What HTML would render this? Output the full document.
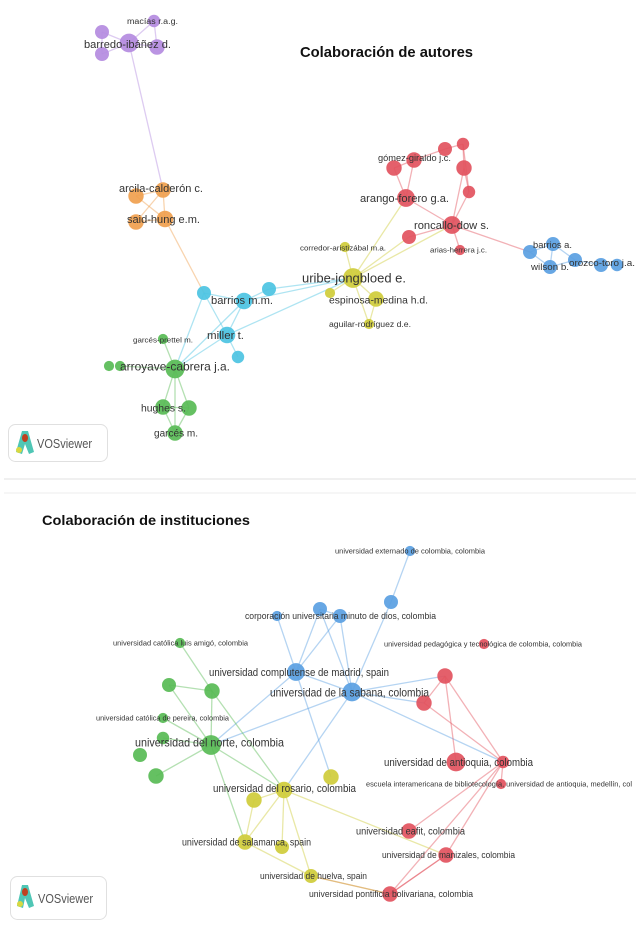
<!DOCTYPE html>
<html><head><meta charset="utf-8"><title>Colaboración de autores e instituciones</title>
<style>
html,body{margin:0;padding:0;background:#fff;}
svg{display:block;}
.lbl{font-family:"Liberation Sans",sans-serif;fill:#333;}
.title{font-family:"Liberation Sans",sans-serif;font-weight:bold;fill:#111;}
</style></head>
<body>
<svg id="chart" width="640" height="927" viewBox="0 0 640 927" xmlns="http://www.w3.org/2000/svg">
  <rect x="0" y="0" width="640" height="927" fill="#fff"/>
  <line x1="4" y1="479" x2="636" y2="479" stroke="#e2e2e2" stroke-width="1"/>
  <line x1="4" y1="493" x2="636" y2="493" stroke="#ececec" stroke-width="1"/>
  <text class="title" x="300" y="57" font-size="15" textLength="173" lengthAdjust="spacingAndGlyphs">Colaboración de autores</text>
  <text class="title" x="42" y="525" font-size="14" textLength="208" lengthAdjust="spacingAndGlyphs">Colaboración de instituciones</text>
  <g id="edges"></g>
  <g id="nodes"></g>
  <g id="labels"></g>
  <g>
    <rect x="8.5" y="424.5" width="99" height="37" rx="7" fill="#fff" stroke="#e0e0e0"/>
    <path d="M22 431 L16 452 L22 454 L25 444 L29 454 L34 452 L28 431 Z" fill="#4fc6b5"/>
    <ellipse cx="25" cy="438" rx="3" ry="4" fill="#c04020"/>
    <ellipse cx="19" cy="450" rx="3" ry="3" fill="#d8d840"/>
    <text class="lbl" x="37" y="448" font-size="13" fill="#555" textLength="55" lengthAdjust="spacingAndGlyphs" style="fill:#555">VOSviewer</text>
  </g>
  <g>
    <rect x="10.5" y="876.5" width="96" height="43" rx="7" fill="#fff" stroke="#e0e0e0"/>
    <path d="M22 885 L17 906 L23 908 L25 898 L29 908 L34 906 L28 885 Z" fill="#4fc6b5"/>
    <ellipse cx="25" cy="892" rx="3" ry="4" fill="#c04020"/>
    <ellipse cx="20" cy="904" rx="3" ry="3" fill="#d8d840"/>
    <text class="lbl" x="38" y="903" font-size="13" textLength="55" lengthAdjust="spacingAndGlyphs" style="fill:#555">VOSviewer</text>
  </g>
</svg>
<script>
// Network data: node ids, cluster, map coordinates, weights
const nodeIds = ["p1","p2","p3","p4","p5","o1","o2","o3","o4","c1","c2","c3","c4","c5","g1","g2","g3","g4","g5","g6","g7","y1","y2","y3","y4","y5","r1","r2","r3","r4","r5","r6","r7","r8","r9","r10","b1","b2","b3","b4","b5","b6",
 "IB1","IB2","IB3","IB4","IB5","IB6","IB7","IR1","IR2","IR3","IR4","IR5","IR6","IR7","IR8","IR9","IG1","IG2","IG3","IG4","IG5","IG6","IG7","IG8","IY1","IY2","IY3","IY4","IY5","IY6"];
const nodeCluster = ["purple","purple","purple","purple","purple","orange","orange","orange","orange","cyan","cyan","cyan","cyan","cyan","green","green","green","green","green","green","green","yellow","yellow","yellow","yellow","yellow","red","red","red","red","red","red","red","red","red","red","blue","blue","blue","blue","blue","blue",
 "blue","blue","blue","blue","blue","blue","blue","red","red","red","red","red","red","red","red","red","green","green","green","green","green","green","green","green","yellow","yellow","yellow","yellow","yellow","yellow"];
const nodeX = [102,102,129,157,154,136,163,136,165,204,244,269,227,238,175,109,120,163,163,189,175,353,376,330,369,345,394,414,445,463,464,469,406,452,409,460,530,553,550,575,601,617,
 410,391,320,340,277,296,352,445,424,484,456,503,501,409,446,390,180,169,212,163,211,163,140,156,284,331,254,245,282,311];
const nodeY = [32,54,43,47,21,196,190,222,219,293,301,289,335,357,369,366,366,339,407,408,433,278,299,293,324,247,168,160,149,144,168,192,198,225,237,250,252,244,267,260,265,265,
 551,602,609,616,616,672,692,676,703,644,762,762,784,831,855,894,643,685,691,718,745,738,755,776,790,777,800,842,847,876];
const nodeWeight = [3,3,7,4,2,4,4,4,5,3,5,3,5,2,7,1,1,1,4,4,4,8,4,1,1,1,4,4,3,2,4,2,6,6,3,1,3,3,3,3,3,2,
 1,3,3,3,1,6,7,4,4,1,7,2,1,4,4,4,1,3,4,1,8,2,3,4,5,4,4,4,3,3];

const edgeFrom = ["p3","p3","p3","p3","p5","p1","p3","o1","o1","o2","o2","o3","o4","c1","c1","c2","c2","c2","c3","c4","c4","c4","c2","c1","g1","g1","g1","g1","g1","g5","g5","g6","y1","y1","y1","y2","y1","y1","y1","y1","r7","r7","r7","r1","r2","r3","r4","r4","r5","r6","r8","r8","r8","r8","b1","b2","b1","b2","b4","b5","b3",
 "IB1","IB2","IB3","IB3","IB4","IB4","IB3","IB5","IB6","IB6","IB7","IB6","IB7","IB7","IB7","IB7","IR1","IR1","IR1","IR2","IR5","IR5","IR5","IR5","IR8","IR8","IR9","IG1","IG3","IG3","IG2","IG4","IG6","IG7","IG8","IG5","IG5","IG3","IY1","IY1","IY3","IY1","IY1","IY4","IY1","IY6"];
const edgeTo = ["p1","p2","p4","p5","p4","p2","o2","o2","o4","o3","o4","o4","c1","c2","c4","c4","c3","y1","y1","y1","c5","g1","g1","g1","g4","g3","g5","g6","g7","g6","g7","g7","y2","y5","y3","y4","y4","r7","r8","r9","r1","r2","r8","r2","r3","r4","r5","r6","r6","r8","r9","r10","r5","b1","b2","b3","b3","b4","b5","b6","b4",
 "IB2","IB7","IB4","IB6","IB6","IB7","IB7","IB6","IB7","IG5","IG5","IY2","IY1","IR1","IR2","IR5","IR4","IR2","IR5","IR5","IR6","IR7","IR8","IR9","IR9","IR9","IY6","IG3","IG2","IG5","IG5","IG5","IG5","IG7","IG5","IY1","IY4","IY1","IY3","IY4","IY4","IY5","IY6","IY6","IR8","IR9"];

const palette = {purple:"#b48be0",orange:"#f0a04e",cyan:"#4cc3e2",green:"#58bb55",yellow:"#cfcc3a",red:"#e2525e",blue:"#5a9fe2"};

const labelText = ["barredo-ibáñez d.","macías r.a.g.","arcila-calderón c.","said-hung e.m.","barrios m.m.","miller t.","garcés-prettel m.","arroyave-cabrera j.a.","hughes s.","garcés m.","uribe-jongbloed e.","espinosa-medina h.d.","aguilar-rodríguez d.e.","corredor-aristizábal m.a.","gómez-giraldo j.c.","arango-forero g.a.","roncallo-dow s.","arias-herrera j.c.","barrios a.","wilson b.","orozco-toro j.a.",
 "universidad externado de colombia, colombia","corporación universitaria minuto de dios, colombia","universidad católica luis amigó, colombia","universidad pedagógica y tecnológica de colombia, colombia","universidad complutense de madrid, spain","universidad de la sabana, colombia","universidad católica de pereira, colombia","universidad del norte, colombia","universidad de antioquia, colombia","escuela interamericana de bibliotecología, universidad de antioquia, medellín, col","universidad del rosario, colombia","universidad eafit, colombia","universidad de salamanca, spain","universidad de manizales, colombia","universidad de huelva, spain","universidad pontificia bolivariana, colombia"];
const labelLeft = [84,127,119,127,211,207,133,120,141,154,302,329,329,300,378,360,414,430,533,531,569,
 335,245,113,384,209,270,96,135,384,366,213,356,182,382,260,309];
const labelRight = [171,178,203,200,273,244,193,230,186,198,406,428,411,386,451,449,489,487,572,569,635,
 485,436,248,582,389,429,229,284,533,632,356,465,311,515,367,473];
const labelY = [44,21,188,219,300,335,340,366,408,433,278,300,324,248,158,198,225,250,245,267,263,
 551,616,643,644,672,692,718,742,762,784,788,831,842,855,876,894];
const labelSize = [11,8,11,11,11,11,7,12,10,10,13,10,8,7,9,11,11,7,9,9,9,
 7,9,7,7,11,12,7,12,11,7,11,10,10,9,9,9];

const NS = "http://www.w3.org/2000/svg";
const idx = {};
nodeIds.forEach((id,i)=>idx[id]=i);
const radius = w => 2.5 + Math.sqrt(w) * 2.6;

const gE = document.getElementById("edges");
edgeFrom.forEach((f,k)=>{
  const a = idx[f], b = idx[edgeTo[k]];
  const ln = document.createElementNS(NS,"line");
  ln.setAttribute("x1",nodeX[a]); ln.setAttribute("y1",nodeY[a]);
  ln.setAttribute("x2",nodeX[b]); ln.setAttribute("y2",nodeY[b]);
  ln.setAttribute("stroke",palette[nodeCluster[a]]);
  ln.setAttribute("stroke-opacity","0.45");
  ln.setAttribute("stroke-width","1.3");
  
  
  gE.appendChild(ln);
});

const gN = document.getElementById("nodes");
nodeIds.forEach((id,i)=>{
  const c = document.createElementNS(NS,"circle");
  c.setAttribute("cx",nodeX[i]); c.setAttribute("cy",nodeY[i]);
  c.setAttribute("r",radius(nodeWeight[i]).toFixed(1));
  c.setAttribute("fill",palette[nodeCluster[i]]);
  c.setAttribute("fill-opacity","0.92");
  
  
  gN.appendChild(c);
});

const gL = document.getElementById("labels");
labelText.forEach((t,i)=>{
  const tx = document.createElementNS(NS,"text");
  tx.setAttribute("class","lbl");
  tx.setAttribute("x",labelLeft[i]);
  tx.setAttribute("y",labelY[i] + labelSize[i]*0.36);
  tx.setAttribute("font-size",labelSize[i]);
  tx.setAttribute("textLength",labelRight[i]-labelLeft[i]);
  tx.setAttribute("lengthAdjust","spacingAndGlyphs");
  tx.textContent = t;
  
  
  gL.appendChild(tx);
});
</script>
</body></html>
